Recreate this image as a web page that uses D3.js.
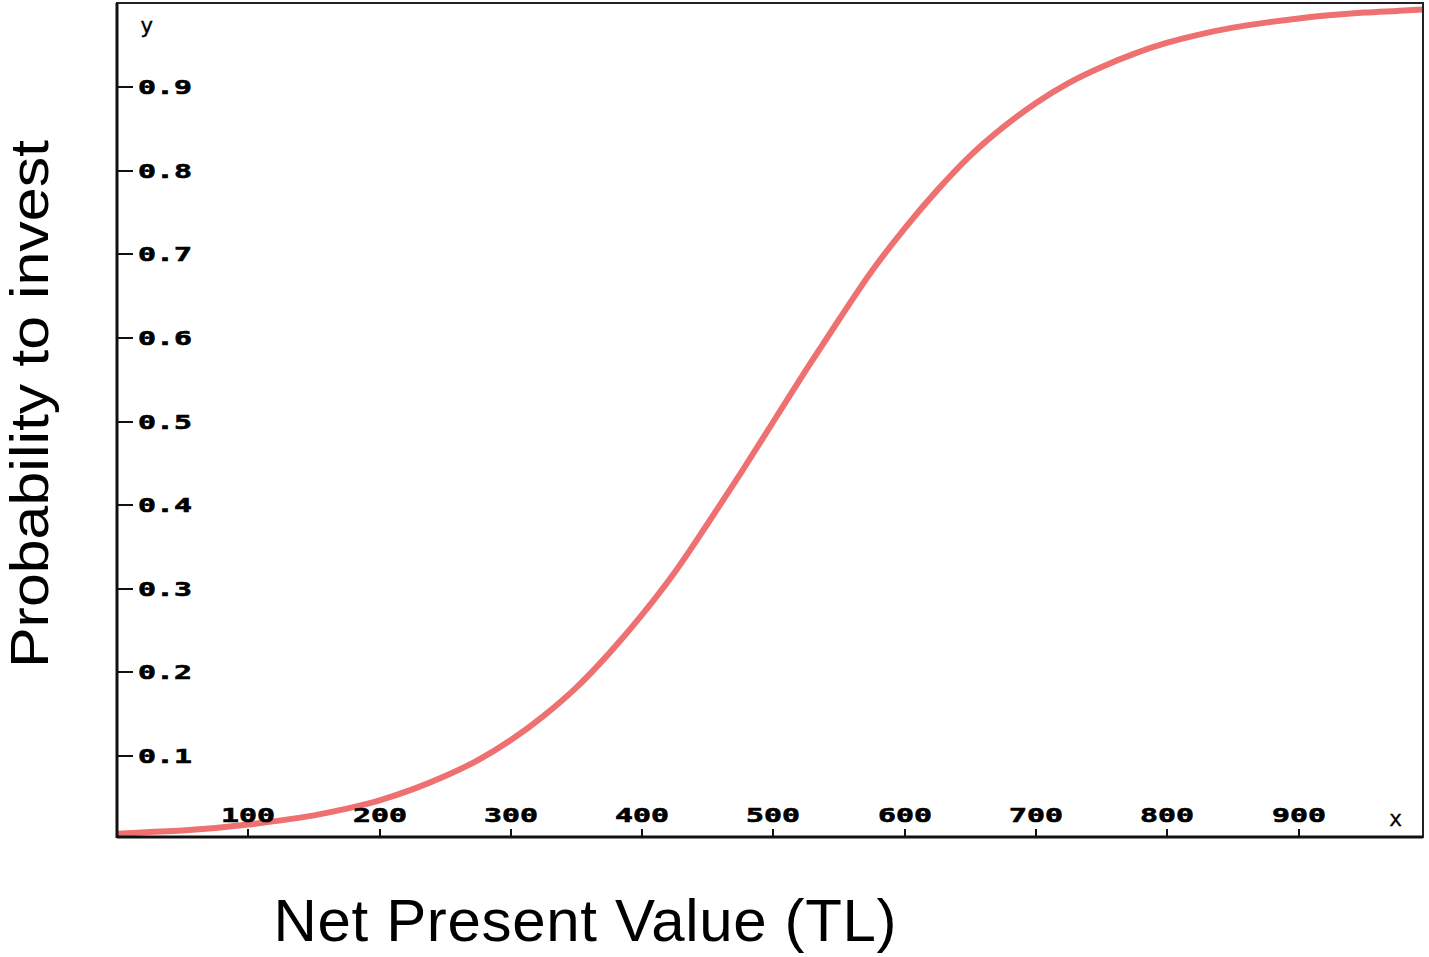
<!DOCTYPE html>
<html>
<head>
<meta charset="utf-8">
<script src="https://cdn.jsdelivr.net/npm/d3@7"></script>
<style>
  body { margin: 0; background: #fff; }
  .tick-label { font-family: "DejaVu Sans Mono", monospace; font-weight: bold; font-size: 19px; fill: #000; stroke: #000; stroke-width: 0.6px; }
  .axis-title { font-family: "Liberation Sans", Arial, sans-serif; fill: #000; }
</style>
</head>
<body>
<div id="chart"></div>
<script>
// net present value (TL) readings along the curve
var npv = [0, 25, 50, 75, 100, 125, 150, 175, 200, 225, 250, 275, 300, 325, 350, 375, 400,
  425, 450, 475, 500, 525, 550, 575, 600, 625, 650, 675, 700, 725, 750, 775, 800,
  825, 850, 875, 900, 925, 950, 975, 1000];
// probability to invest
var prob = [0.007, 0.009, 0.011, 0.014, 0.018, 0.023, 0.029, 0.037, 0.047, 0.060, 0.076, 0.095, 0.119,
  0.148, 0.182, 0.223, 0.269, 0.320, 0.378, 0.438, 0.500, 0.562, 0.622, 0.680, 0.731,
  0.777, 0.818, 0.852, 0.881, 0.905, 0.924, 0.940, 0.953, 0.963, 0.971, 0.977, 0.982,
  0.986, 0.989, 0.991, 0.993];
var xTicks = [100, 200, 300, 400, 500, 600, 700, 800, 900];
var yTicks = [0.1, 0.2, 0.3, 0.4, 0.5, 0.6, 0.7, 0.8, 0.9];

var W = 1429, H = 957;
var frame = { left: 117, right: 1423, top: 3, bottom: 837 };

var svg = d3.select("#chart").append("svg")
    .attr("width", W)
    .attr("height", H);

var x = d3.scaleLinear().domain([0, 994]).range([117, 1422]);
var y = d3.scaleLinear().domain([0, 1]).range([839.6, 3.4]);

var data = npv.map(function (d, i) { return { x: d, y: prob[i] }; });

svg.append("clipPath").attr("id", "plot-clip")
  .append("rect")
    .attr("x", frame.left)
    .attr("y", frame.top)
    .attr("width", frame.right - frame.left)
    .attr("height", frame.bottom - frame.top);

// curve
var line = d3.line()
    .x(function (d) { return x(d.x); })
    .y(function (d) { return y(d.y); })
    .curve(d3.curveMonotoneX);

svg.append("path")
    .datum(data)
    .attr("clip-path", "url(#plot-clip)")
    .attr("fill", "none")
    .attr("stroke", "#ee7070")
    .attr("stroke-width", 6)
    .attr("d", line);

// frame: thin top and right, heavier left and bottom axes
svg.append("rect")
    .attr("x", frame.left)
    .attr("y", frame.top)
    .attr("width", frame.right - frame.left)
    .attr("height", frame.bottom - frame.top)
    .attr("fill", "none")
    .attr("stroke", "#222")
    .attr("stroke-width", 2);

svg.append("line")
    .attr("x1", frame.left).attr("x2", frame.left)
    .attr("y1", frame.top).attr("y2", frame.bottom + 1)
    .attr("stroke", "#111").attr("stroke-width", 3);
svg.append("line")
    .attr("x1", frame.left).attr("x2", frame.right)
    .attr("y1", frame.bottom).attr("y2", frame.bottom)
    .attr("stroke", "#111").attr("stroke-width", 3);

// y ticks point right, labels just past them
var yt = svg.append("g").selectAll("g")
    .data(yTicks)
    .enter().append("g")
    .attr("transform", function (d) { return "translate(0," + Math.round(y(d)) + ")"; });
yt.append("line")
    .attr("x1", frame.left).attr("x2", frame.left + 16)
    .attr("stroke", "#111").attr("stroke-width", 2);
yt.append("text")
    .attr("class", "tick-label")
    .attr("x", 138)
    .attr("y", 7)
    .attr("textLength", 54)
    .attr("lengthAdjust", "spacingAndGlyphs")
    .text(function (d) { return d3.format(".1f")(d); });

// x ticks point up from the bottom axis, labels above them
var xt = svg.append("g").selectAll("g")
    .data(xTicks)
    .enter().append("g")
    .attr("transform", function (d) { return "translate(" + Math.round(x(d)) + ",0)"; });
xt.append("line")
    .attr("y1", frame.bottom).attr("y2", frame.bottom - 8)
    .attr("stroke", "#111").attr("stroke-width", 2);
xt.append("text")
    .attr("class", "tick-label")
    .attr("x", 0)
    .attr("y", 822)
    .attr("text-anchor", "middle")
    .attr("textLength", 54)
    .attr("lengthAdjust", "spacingAndGlyphs")
    .text(function (d) { return d; });

// small axis letters
svg.append("text")
    .attr("class", "tick-label")
    .attr("x", 140).attr("y", 33)
    .style("font-weight", "normal")
    .style("stroke-width", "0.3px")
    .style("font-size", "22px")
    .text("y");
svg.append("text")
    .attr("class", "tick-label")
    .attr("x", 1389).attr("y", 826)
    .style("font-weight", "normal")
    .style("stroke-width", "0.3px")
    .style("font-size", "22px")
    .text("x");

// axis titles
svg.append("text")
    .attr("class", "axis-title")
    .attr("x", 585).attr("y", 941)
    .attr("text-anchor", "middle")
    .style("font-size", "60px")
    .attr("textLength", 623)
    .text("Net Present Value (TL)");

svg.append("text")
    .attr("class", "axis-title")
    .attr("transform", "translate(48,404) rotate(-90)")
    .attr("text-anchor", "middle")
    .style("font-size", "53px")
    .attr("textLength", 528)
    .attr("lengthAdjust", "spacingAndGlyphs")
    .text("Probability to invest");
</script>
</body>
</html>
